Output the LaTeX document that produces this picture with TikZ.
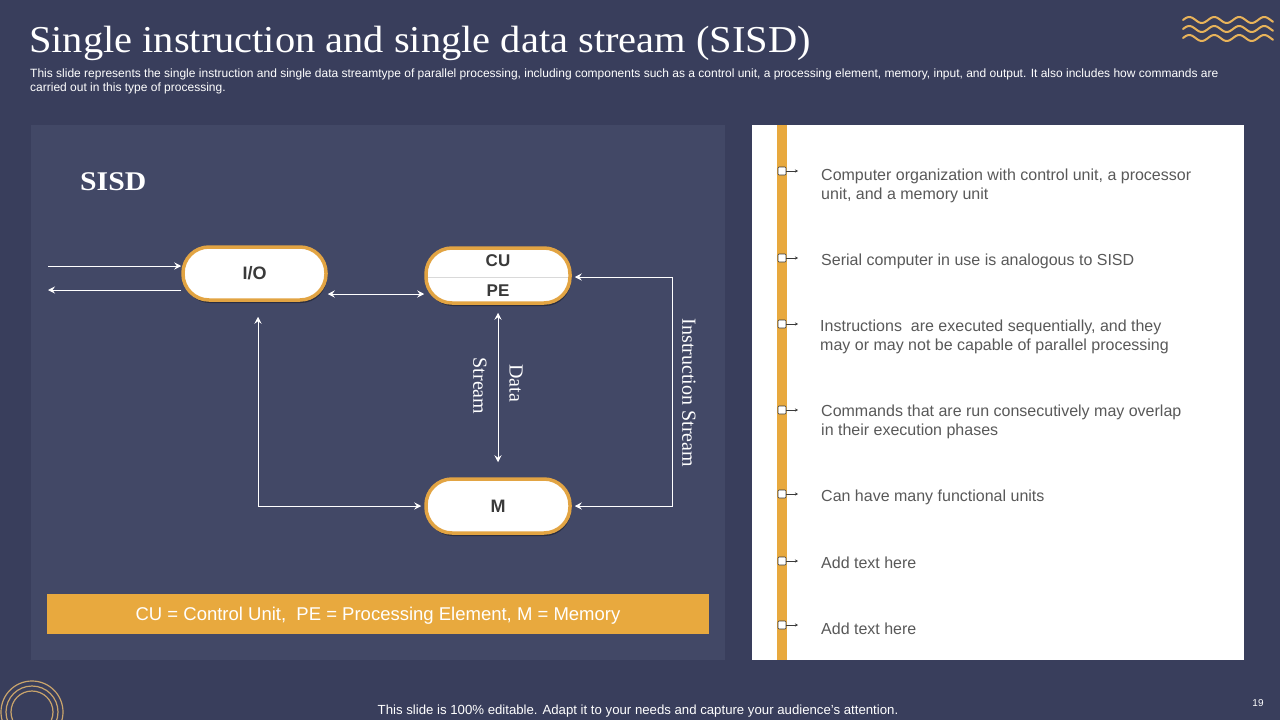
\documentclass[tikz,border=0pt]{standalone}
\usepackage{fontspec}
\setmainfont{Liberation Sans}
\newfontfamily\seriffont{Liberation Serif}
\usetikzlibrary{arrows.meta,shadows}
\definecolor{bgc}{HTML}{393E5C}
\definecolor{panelc}{HTML}{424866}
\definecolor{orangec}{HTML}{E8A93E}
\definecolor{pillc}{HTML}{E2A443}
\definecolor{wavec}{HTML}{E8B35A}
\definecolor{ringc}{HTML}{C9A46C}
\definecolor{darktext}{HTML}{3A3A3A}
\definecolor{greytext}{HTML}{595959}
\pgfdeclarelayer{back}
\pgfdeclarelayer{conn}
\pgfsetlayers{back,conn,main}
\tikzset{
  pill/.style={draw=pillc, line width=3.5pt, fill=white, rounded corners=26pt,
    minimum width=143pt, minimum height=53pt, inner sep=0pt, text=darktext,
    font=\fontsize{18}{20}\selectfont\bfseries,
    drop shadow={shadow xshift=1pt, shadow yshift=-3pt, opacity=0.35, fill=black}},
  conn/.style={draw=white, line width=0.9pt},
  arr/.style={conn, -{Stealth[length=7pt,width=7pt,inset=2.5pt]}},
  arrb/.style={conn, {Stealth[length=7pt,width=7pt,inset=2.5pt]}-{Stealth[length=7pt,width=7pt,inset=2.5pt]}},
  rlabel/.style={text=white, rotate=-90, font=\seriffont\fontsize{20}{22}\selectfont, inner sep=0pt},
  bullettext/.style={anchor=west, align=left, text=greytext, inner sep=0pt,
    font=\fontsize{16}{19}\selectfont},
  marker/.style={draw=darktext, fill=white, line width=0.6pt, rounded corners=1pt},
  wave/.style={draw=wavec, line width=2pt, line cap=round}
}
\begin{document}
\begin{tikzpicture}[x=1pt,y=-1pt]
\useasboundingbox (0,0) rectangle (1280,720);
\begin{pgfonlayer}{back}
\fill[bgc] (0,0) rectangle (1280,720);
\fill[panelc] (31,125) rectangle (725,660);
\fill[white] (752,125) rectangle (1244,660);
\fill[orangec] (777,125) rectangle (787,660);
\end{pgfonlayer}

% title and subtitle
\node[anchor=base west, text=white, inner sep=0pt, font=\seriffont\fontsize{38}{40}\selectfont] (title) at (29,52) {\scalebox{1.064}[1]{Single instruction and single data stream (SISD)}};
\node[anchor=north west, text=white, inner sep=0pt, align=left, font=\fontsize{12}{14}\selectfont] (sub) at (30,69) {This slide represents the single instruction and single data streamtype of parallel processing, including components such as a control unit, a processing element, memory, input, and output. It also includes how commands are\\carried out in this type of processing.};

% waves
\foreach \yy in {20,29,38}{
  \draw[wave] plot[domain=0:90, samples=80] ({1183+\x}, {\yy-3*sin(\x*14.4)});
}
% rings
\foreach \r in {31,26,21}{
  \draw[ringc, line width=1.2pt] (32,712) circle (\r);
}

\node[anchor=base west, text=white, inner sep=0pt, font=\seriffont\bfseries\fontsize{27}{30}\selectfont] (sisd) at (80,190) {\scalebox{1.1}[1]{SISD}};

% nodes
\node[pill] (io) at (254.5,273.5) {I/O};
\node[pill, minimum width=144pt, minimum height=55pt] (cupe) at (498,275.5) {};
\draw[gray!30, line width=1pt] (428,277) -- (568,277);
\node[text=darktext, font=\fontsize{17}{19}\selectfont\bfseries, inner sep=0pt] (cu) at (498,261) {CU};
\node[text=darktext, font=\fontsize{17}{19}\selectfont\bfseries, inner sep=0pt] (pe) at (498,291) {PE};
\node[pill, minimum width=144pt, minimum height=54pt] (m) at (498,506) {M};

\coordinate (inL) at (48,266);
\coordinate (outL) at (48,290);
\coordinate (il) at (258,506);
\coordinate (ir) at (672,0);
\begin{pgfonlayer}{conn}
\draw[arr] (inL) -- (inL -| io.west);
\draw[arr] (outL -| io.west) -- (outL);
\draw[arrb] (io.east |- 0,294) -- (cupe.west |- 0,294);
\draw[arrb, shorten <=8pt, shorten >=15pt] (cupe.south) -- (m.north);
\draw[arrb, shorten <=3pt, shorten >=3pt] (m.east) -| (ir |- 0,277) -- (cupe.east |- 0,277);
\draw[arrb, shorten <=15pt, shorten >=3pt] (io.south -| il) -- (il) -- (m.west);
\end{pgfonlayer}

\node[rlabel] (data) at (516,383) {Data};
\node[rlabel] (stream) at (480,386) {Stream};
\node[rlabel] (instr) at (689,393) {Instruction Stream};

% caption bar
\node[fill=orangec, minimum width=662pt, minimum height=40pt, inner sep=0pt, text=white, font=\fontsize{18.5}{20}\selectfont, text depth=1pt] (cap) at (378,614) {CU = Control Unit,\ \ PE = Processing Element, M = Memory};

% right list
\foreach \yy in {171,258,324,410,494,561,625}{
  \draw[marker] (778,\yy-4) rectangle (786,\yy+4);
  \draw[darktext, line width=0.6pt, -{Stealth[length=3pt,width=3pt]}] (786,\yy) -- (798,\yy);
}
\node[bullettext] (t1) at (821,185.5) {Computer organization with control unit, a processor\\unit, and a memory unit};
\node[bullettext] (t2) at (821,261) {Serial computer in use is analogous to SISD};
\node[bullettext] (t3) at (820,336.5) {Instructions\ \ are executed sequentially, and they\\may or may not be capable of parallel processing};
\node[bullettext] (t4) at (821,421.5) {Commands that are run consecutively may overlap\\in their execution phases};
\node[bullettext] (t5) at (821,497) {Can have many functional units};
\node[bullettext] (t6) at (821,563) {Add text here};
\node[bullettext] (t7) at (821,629) {Add text here};

% footer
\node[text=white, inner sep=0pt, font=\fontsize{13.2}{15}\selectfont] (foot) at (638,711) {This slide is 100\% editable. Adapt it to your needs and capture your audience's attention.};
\node[text=white, inner sep=0pt, font=\fontsize{10}{12}\selectfont] (pg) at (1258,703) {19};
\end{tikzpicture}
\end{document}
